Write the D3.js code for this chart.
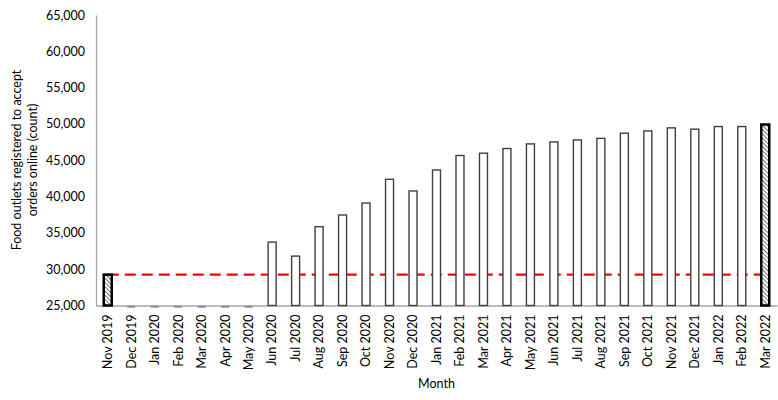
<!DOCTYPE html>
<html>
<head>
<meta charset="utf-8">
<script src="https://cdn.jsdelivr.net/npm/d3@7"></script>
<style>
  body { margin: 0; background: #fff; }
  text { font-family: Lato, "Open Sans", sans-serif; fill: #000; }
</style>
</head>
<body>
<svg id="chart" width="778" height="400"></svg>
<script>
"use strict";

// months on the category axis
var months = ["Nov 2019", "Dec 2019", "Jan 2020", "Feb 2020", "Mar 2020", "Apr 2020", "May 2020",
  "Jun 2020", "Jul 2020", "Aug 2020", "Sep 2020", "Oct 2020", "Nov 2020", "Dec 2020",
  "Jan 2021", "Feb 2021", "Mar 2021", "Apr 2021", "May 2021", "Jun 2021", "Jul 2021",
  "Aug 2021", "Sep 2021", "Oct 2021", "Nov 2021", "Dec 2021", "Jan 2022", "Feb 2022", "Mar 2022"];

// registered food outlets (0 = no data for that month)
var outlets = [29250, 0, 0, 0, 0, 0, 0,
  33730, 31800, 35850, 37460, 39110, 42380, 40770,
  43660, 45650, 45970, 46610, 47250, 47520, 47800,
  48020, 48720, 49040, 49460, 49280, 49640, 49640, 49920];

// months drawn with hatched fill (first and last)
var highlighted = ["Nov 2019", "Mar 2022"];

// baseline (Nov 2019 level) shown as red dashed line
var baselineValue = 29250;

var yTicks = [25000, 30000, 35000, 40000, 45000, 50000, 55000, 60000, 65000];
var yTitle = ["Food outlets registered to accept", "orders online (count)"];
var xTitle = "Month";

var svg = d3.select("#chart");

// plot area
var plotL = 96, plotR = 777, plotT = 15, plotB = 305.5;
var fontSize = "12.5px";

var x = d3.scaleBand().domain(months).range([plotL, plotR]).padding(0);
var y = d3.scaleLinear().domain([25000, 65000]).range([plotB, plotT]);

var barW = 8;

// hatch pattern
var defs = svg.append("defs");
var pat = defs.append("pattern")
  .attr("id", "hatch")
  .attr("patternUnits", "userSpaceOnUse")
  .attr("width", 3).attr("height", 3)
  .attr("patternTransform", "rotate(-45)");
pat.append("rect").attr("width", 3).attr("height", 3).attr("fill", "#fff");
pat.append("line").attr("x1", 0).attr("y1", 0).attr("x2", 0).attr("y2", 3)
  .attr("stroke", "#444").attr("stroke-width", 1.5);

// y axis
var yAxis = svg.append("g")
  .attr("transform", "translate(" + plotL + ",0)")
  .call(d3.axisLeft(y).tickValues(yTicks).tickSize(0).tickPadding(11)
    .tickFormat(d3.format(",")));
yAxis.select(".domain").attr("stroke", "#a6a6a6").attr("stroke-width", 1.3);
yAxis.selectAll("text").style("font-size", fontSize).style("font-family", "Lato, sans-serif").attr("fill", "#000");

var rows = months.map(function(m, i) { return { month: m, value: outlets[i] }; });

function isHi(d) { return highlighted.indexOf(d.month) >= 0; }
function cx(d) { return x(d.month) + x.bandwidth() / 2; }

// months with no data sit flat on the axis
svg.append("g").selectAll("line")
  .data(rows.filter(function(d) { return d.value <= 25000; }))
  .enter()
  .append("line")
  .attr("x1", function(d) { return cx(d) - barW / 2; })
  .attr("x2", function(d) { return cx(d) + barW / 2; })
  .attr("y1", plotB + 1).attr("y2", plotB + 1)
  .attr("stroke", "#595959").attr("stroke-width", 2);

// x axis
var xAxis = svg.append("g")
  .attr("transform", "translate(0," + plotB + ")")
  .call(d3.axisBottom(x).tickSize(0).tickPadding(0));
xAxis.select(".domain").attr("stroke", "#a6a6a6").attr("stroke-width", 1.3);
xAxis.selectAll("text")
  .style("font-size", fontSize).style("font-family", "Lato, sans-serif").attr("fill", "#000")
  .attr("text-anchor", "end")
  .attr("dy", "0.35em")
  .attr("transform", "translate(0,9) rotate(-90)")
  .attr("x", 0).attr("y", 0);

// red dashed baseline
svg.append("line")
  .attr("x1", cx(rows[0]))
  .attr("x2", cx(rows[rows.length - 1]))
  .attr("y1", y(baselineValue)).attr("y2", y(baselineValue))
  .attr("stroke", "#ff0000").attr("stroke-width", 2.2)
  .attr("stroke-dasharray", "11,6");

// bars
svg.append("g").selectAll("rect")
  .data(rows.filter(function(d) { return d.value > 25000; }))
  .enter()
  .append("rect")
  .attr("x", function(d) { return cx(d) - barW / 2; })
  .attr("y", function(d) { return y(d.value); })
  .attr("width", barW)
  .attr("height", function(d) { return plotB - y(d.value); })
  .attr("fill", function(d) { return isHi(d) ? "url(#hatch)" : "#fff"; })
  .attr("stroke", function(d) { return isHi(d) ? "#000" : "#404040"; })
  .attr("stroke-width", function(d) { return isHi(d) ? 2.5 : 1.4; });

// axis titles
svg.append("text")
  .attr("transform", "translate(17,160) rotate(-90)")
  .attr("text-anchor", "middle")
  .style("font-size", fontSize)
  .selectAll("tspan")
  .data(yTitle)
  .enter()
  .append("tspan")
  .attr("x", 0)
  .attr("dy", function(d, i) { return i === 0 ? "0.35em" : "16px"; })
  .text(function(d) { return d; });

svg.append("text")
  .attr("x", (plotL + plotR) / 2)
  .attr("y", 388)
  .attr("text-anchor", "middle")
  .style("font-size", fontSize)
  .text(xTitle);
</script>
</body>
</html>
